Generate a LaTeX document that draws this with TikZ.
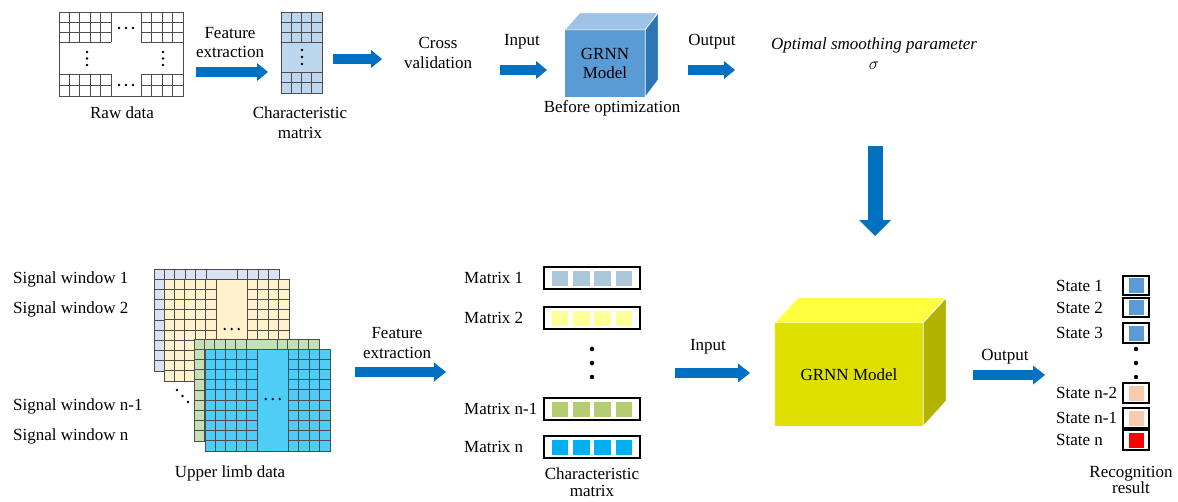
\documentclass[tikz,border=0pt]{standalone}
\usepackage{fontspec}
\setmainfont{Liberation Serif}
\usetikzlibrary{arrows.meta}
\definecolor{arrblue}{HTML}{0070C0}
\definecolor{cmfill}{HTML}{BDD7EE}
\definecolor{cubeF}{HTML}{5B9BD5}
\definecolor{cubeT}{HTML}{9DC3E6}
\definecolor{cubeR}{HTML}{2E75B6}
\definecolor{yF}{HTML}{E0E000}
\definecolor{yT}{HTML}{FFFF40}
\definecolor{yR}{HTML}{B2B200}
\definecolor{layA}{HTML}{DAE3F3}
\definecolor{layB}{HTML}{FFF2CC}
\definecolor{layC}{HTML}{C5E0B4}
\definecolor{layD}{HTML}{4FCDF7}
\definecolor{mA}{HTML}{ABC8DB}
\definecolor{mB}{HTML}{FFFF99}
\definecolor{mC}{HTML}{B4CD6E}
\definecolor{mD}{HTML}{00B0F0}
\definecolor{sA}{HTML}{5B9BD5}
\definecolor{sB}{HTML}{F8CBAD}
\definecolor{sC}{HTML}{FF0000}
\newcommand\mylayer[3]{%
  \fill[#3] (#1,#2) rectangle ++(125,102);
  \foreach \i in {0,1,2,3,4,5,8,9,10,11,12} \draw[gl] ({#1+\i*125/12},#2) -- ++(0,102);
  \foreach \j in {1,...,9} {%
    \draw[gl] (#1,{#2+\j*10.2}) -- ++(52.08,0);
    \draw[gl] ({#1+8*125/12},{#2+\j*10.2}) -- ++(41.67,0);}
  \draw[gl] (#1,#2) rectangle ++(125,102);
  \foreach \d in {-7,0,7} \fill ({#1+67.7+\d},{#2+50}) circle (1.3);
}
\begin{document}
\begin{tikzpicture}[x=1pt,y=-1pt,
  lbl/.style={font=\fontsize{17}{19.5}\selectfont,inner sep=0pt,align=center},
  gl/.style={draw=black!70,line width=0.7pt},
  barrow/.style={draw=arrblue,line width=9.5pt,-{Triangle[width=18pt,length=11pt,line width=0pt]}},
  barrowb/.style={draw=arrblue,line width=10.5pt,-{Triangle[width=19pt,length=12pt,line width=0pt]}},
  vbarrow/.style={draw=arrblue,line width=15pt,-{Triangle[width=32pt,length=16pt,line width=0pt]}},
  box/.style={draw=black,line width=1.3pt,fill=white,inner sep=0pt},
  sq/.style={minimum width=16.5pt,minimum height=15pt,inner sep=0pt},
  ssq/.style={minimum width=15pt,minimum height=15pt,inner sep=0pt},
  edge/.style={draw=white,line width=0.6pt}]
\useasboundingbox (0,0) rectangle (1178,501);

% ---------- top row: raw data grid
\draw[gl] (59,12) rectangle (183,96);
\foreach \i in {1,...,5} {\draw[gl] ({59+\i*10.4},12) -- ++(0,30); \draw[gl] ({59+\i*10.4},74) -- ++(0,22);}
\foreach \i in {0,...,3} {\draw[gl] ({141+\i*10.5},12) -- ++(0,30); \draw[gl] ({141+\i*10.5},74) -- ++(0,22);}
\foreach \y in {22,32,42,74,85} {\draw[gl] (59,\y) -- (111,\y); \draw[gl] (141,\y) -- (183,\y);}
\foreach \x in {119,126,133} {\fill (\x,28) circle (1.3); \fill (\x,85) circle (1.3);}
\foreach \y in {52,58.5,65} {\fill (87,\y) circle (1.3); \fill (163,\y) circle (1.3);}
\node[lbl] (raw) at (122,113) {Raw data};

% characteristic matrix (top)
\fill[cmfill] (281,12) rectangle (322,93);
\draw[gl] (281,12) rectangle (322,93);
\foreach \i in {1,2,3} {\draw[gl] ({281+\i*10.25},12) -- ++(0,30); \draw[gl] ({281+\i*10.25},72) -- ++(0,21);}
\foreach \y in {22,32,42,72,82.5} \draw[gl] (281,\y) -- (322,\y);
\foreach \y in {50,57,64} \fill (302,\y) circle (1.3);
\node[lbl] (cm1) at (300,122.5) {Characteristic\\matrix};

\node[lbl] (fe1) at (230,42.5) {Feature\\extraction};
\coordinate (a1s) at (196,72); \coordinate (a1e) at (268,72);
\draw[barrow] (a1s) -- (a1e);
\coordinate (a2s) at (333,59); \coordinate (a2e) at (382,59);
\draw[barrow] (a2s) -- (a2e);
\node[lbl] (cv) at (438,53) {Cross\\validation};
\node[lbl] (in1) at (522,42) {Input};
\coordinate (a3s) at (500,70); \coordinate (a3e) at (547,70);
\draw[barrow] (a3s) -- (a3e);

% top cube
\node[lbl,fill=cubeF,minimum width=80pt,minimum height=67pt] (grnn1) at (605,63.5) {GRNN\\Model};
\filldraw[cubeT,edge] (grnn1.north west) -- ++(15,-17) -- ++(78,0) -- (grnn1.north east) -- cycle;
\filldraw[cubeR,edge] (grnn1.north east) -- ++(13,-17) -- ++(0,67) -- (grnn1.south east) -- cycle;
\node[lbl] (bo) at (612,108) {Before optimization};

\node[lbl] (out1) at (712,42) {Output};
\coordinate (a4s) at (688,70); \coordinate (a4e) at (735,70);
\draw[barrow] (a4s) -- (a4e);
\node[lbl] (opt) at (874,53.5) {\textit{Optimal smoothing parameter}\\$\sigma$};
\coordinate (vs) at (875,146); \coordinate (ve) at (875,236);
\draw[vbarrow] (vs) -- (ve);

% ---------- bottom row
\mylayer{154}{269}{layA}
\mylayer{164}{279}{layB}
\mylayer{194}{339}{layC}
\mylayer{205}{349}{layD}
\foreach \p in {(177,390),(182.5,396),(188,402)} \fill \p circle (1.3);
\node[lbl,anchor=west] (sw1) at (13,279) {Signal window 1};
\node[lbl,anchor=west] (sw2) at (13,309) {Signal window 2};
\node[lbl,anchor=west] (swn1) at (13,406) {Signal window n-1};
\node[lbl,anchor=west] (swn) at (13,436) {Signal window n};
\node[lbl] (uld) at (230,473) {Upper limb data};

\node[lbl] (fe2) at (397,343) {Feature\\extraction};
\coordinate (b1s) at (355,372); \coordinate (b1e) at (446,372);
\draw[barrowb] (b1s) -- (b1e);

% matrices
\foreach \n/\yy/\cc/\tt in {m1/278/mA/Matrix 1, m2/318/mB/Matrix 2, mn1/409/mC/Matrix n-1, mn/447/mD/Matrix n}{
  \node[box,minimum width=96pt,minimum height=22pt] (\n) at (592,\yy) {};
  \foreach \k/\dx in {1/-31.95,2/-10.65,3/10.65,4/31.95}
    \node[sq,fill=\cc] (\n s\k) at ({592+\dx},\yy) {};
  \node[lbl,anchor=west] (\n l) at (464,\yy) {\tt};
}
\foreach \y in {349,363,377} \fill (592,\y) circle (2.3);
\node[lbl,font=\fontsize{17}{17}\selectfont] (cm2) at (592,482) {Characteristic\\matrix};

\node[lbl] (in2) at (708,347) {Input};
\coordinate (b2s) at (675,373); \coordinate (b2e) at (750,373);
\draw[barrowb] (b2s) -- (b2e);

% yellow cube
\node[lbl,fill=yF,minimum width=148pt,minimum height=103pt] (grnn2) at (849,374.5) {GRNN Model};
\filldraw[yT,edge] (grnn2.north west) -- ++(23,-25) -- ++(148,0) -- (grnn2.north east) -- cycle;
\filldraw[yR,edge] (grnn2.north east) -- ++(23,-25) -- ++(0,103) -- (grnn2.south east) -- cycle;

\node[lbl] (out2) at (1005,357) {Output};
\coordinate (b3s) at (973,375); \coordinate (b3e) at (1045,375);
\draw[barrowb] (b3s) -- (b3e);

% states
\foreach \n/\yy/\hh/\cc/\tt in {s1/285.5/19/sA/State 1, s2/307.5/19/sA/State 2, s3/333/20/sA/State 3, sn2/393/20/sB/State n-2, sn1/418/20/sB/State n-1, sn/440/20/sC/State n}{
  \node[box,minimum width=26pt,minimum height=\hh pt] (\n) at (1136,\yy) {};
  \node[ssq,fill=\cc] (\n q) at (1136,\yy) {};
  \node[lbl,anchor=west] (\n l) at (1056,\yy) {\tt};
}
\foreach \y in {349,363,377} \fill (1136,\y) circle (2.2);
\node[lbl,font=\fontsize{17}{16.5}\selectfont] (rr) at (1131,480) {Recognition\\result};
\end{tikzpicture}
\end{document}
